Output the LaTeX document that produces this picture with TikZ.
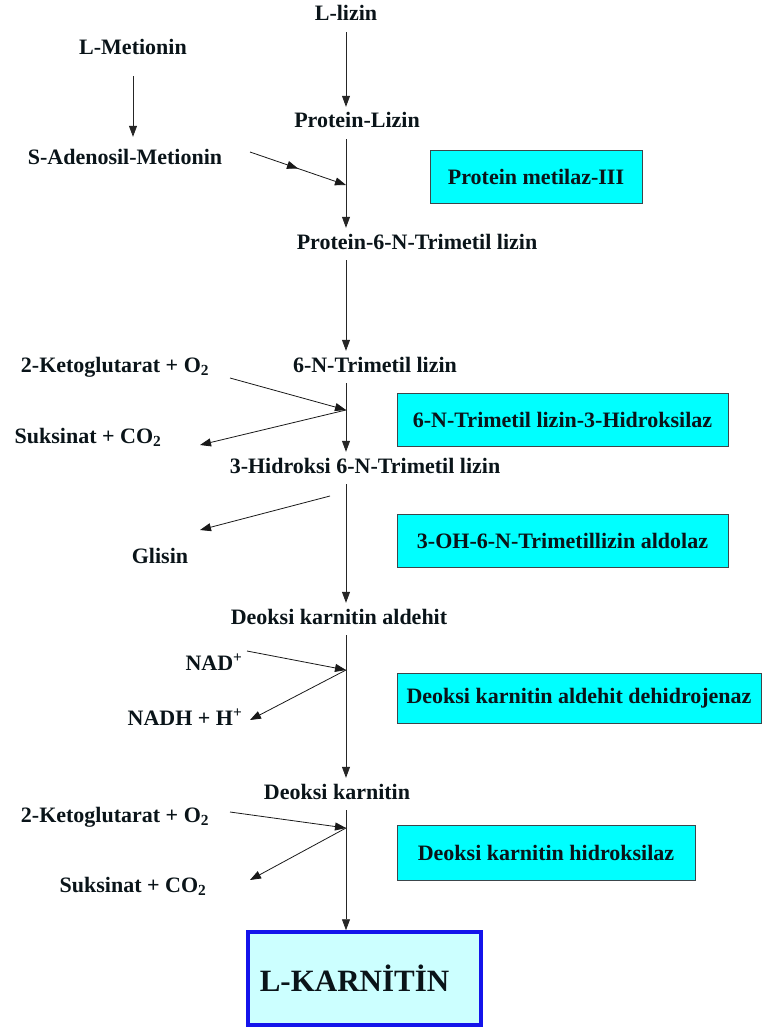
\documentclass[tikz,border=0pt]{standalone}
\usepackage{fontspec}
\setmainfont{Liberation Serif}
\usepackage{tikz}
\usetikzlibrary{
  arrows.meta,
  decorations.markings,
  positioning
}
\definecolor{enzcyan}{RGB}{0,255,255}
\definecolor{enzedge}{RGB}{60,70,75}
\definecolor{prodfill}{RGB}{204,255,255}
\definecolor{prodblue}{RGB}{20,20,235}
\definecolor{inkdark}{RGB}{10,20,25}
\tikzset{
  metab/.style={font=\fontsize{22}{26}\selectfont\bfseries,text=inkdark,
    inner xsep=3pt,inner ysep=6pt,text height=15pt,text depth=5pt},
  enzyme/.style={draw=enzedge,thick,fill=enzcyan,align=center,
    font=\fontsize{22}{26}\selectfont\bfseries,text=inkdark,
    minimum height=53pt},
  product/.style={draw=prodblue,line width=3.5pt,fill=prodfill,
    font=\fontsize{31}{34}\selectfont\bfseries,text=inkdark,
    minimum width=233pt,minimum height=93pt},
  flow/.style={-{Triangle[length=11pt,width=8pt]},thick,draw=black!85},
  sideflow/.style={-{Triangle[length=11pt,width=8pt]},thick,draw=black!90},
  midtip/.style={postaction={decorate},decoration={markings,
    mark=at position 0.5 with {\arrow{Triangle[length=11pt,width=8pt]}}}}
}

\begin{document}
\begin{tikzpicture}[x=1pt,y=-1pt]
  \useasboundingbox (0,0) rectangle (763,1030);
  % main line
  \node[metab] (llizin) at (346,16) {L-lizin};
  \node[metab] (plys) at (357,123) {Protein-Lizin};
  \node[metab] (p6n) at (417,244) {Protein-6-N-Trimetil lizin};
  \node[metab] (tml) at (375,367) {6-N-Trimetil lizin};
  \node[metab] (html) at (365,468) {3-Hidroksi 6-N-Trimetil lizin};
  \node[metab] (dka) at (339,619) {Deoksi karnitin aldehit};
  \node[metab] (dk) at (337,794) {Deoksi karnitin};
  \node[product] (lkar) at (364.5,978.5) {L-KARNİTİN\hspace*{20pt}};
  % side substrates and products
  \node[metab] (lmet) at (133,50) {L-Metionin};
  \node[metab] (sam) at (125,159) {S-Adenosil-Metionin};
  \node[metab] (kg1) at (115,367) {2-Ketoglutarat + O\textsubscript{2}};
  \node[metab] (suk1) at (88,438) {Suksinat + CO\textsubscript{2}};
  \node[metab] (gly) at (160,558) {Glisin};
  \node[metab] (nad) at (214,665) {NAD\textsuperscript{+}};
  \node[metab] (nadh) at (185,720) {NADH + H\textsuperscript{+}};
  \node[metab] (kg2) at (115,817) {2-Ketoglutarat + O\textsubscript{2}};
  \node[metab] (suk2) at (133,887) {Suksinat + CO\textsubscript{2}};
  % enzymes
  \node[enzyme,minimum width=212pt] (pm3) at (536,176.5) {Protein metilaz-III};
  \node[enzyme,minimum width=331pt] (hyd) at (562.5,420) {6-N-Trimetil lizin-3-Hidroksilaz};
  \node[enzyme,minimum width=331pt] (ald) at (562.5,541) {3-OH-6-N-Trimetillizin aldolaz};
  \node[enzyme,minimum width=364pt,minimum height=50pt] (dhg) at (579,698) {Deoksi karnitin aldehit dehidrojenaz};
  \node[enzyme,minimum width=298pt,minimum height=55pt] (dkh) at (546,852.5) {Deoksi karnitin hidroksilaz};
  % junctions on the main line
  \coordinate (axis) at (346,0);
  \coordinate (jsam) at (346,185);
  \coordinate (jkg1) at (346,410);
  \coordinate (jgly) at (330,496);
  \coordinate (jnad) at (346,670);
  \coordinate (jkg2) at (346,828);
  \coordinate (samout) at (250,152);
  \coordinate (kg1out) at (230,378);
  \coordinate (suk1in) at (200,445);
  \coordinate (glyin) at (200,530);
  \coordinate (nadout) at (247,651);
  \coordinate (nadhin) at (250,720);
  \coordinate (kg2out) at (230,812);
  \coordinate (suk2in) at (250,880);

  \draw[flow] (axis |- llizin.south) -- (axis |- plys.north);
  \draw[flow] (axis |- plys.south) -- (axis |- p6n.north);
  \draw[flow] (axis |- p6n.south) -- (axis |- tml.north);
  \draw[flow] (axis |- tml.south) -- (axis |- html.north);
  \draw[flow] (axis |- html.south) -- (axis |- dka.north);
  \draw[flow] (axis |- dka.south) -- (axis |- dk.north);
  \draw[flow] (axis |- dk.south) -- (axis |- lkar.north);

  \draw[flow,shorten <=10pt,shorten >=6pt] (lmet.south) -- (lmet.south |- sam.north);
  \draw[sideflow,midtip] (samout) -- (jsam);
  \draw[sideflow] (kg1out) -- (jkg1);
  \draw[sideflow] (jkg1) -- (suk1in);
  \draw[sideflow] (jgly) -- (glyin);
  \draw[sideflow] (nadout) -- (jnad);
  \draw[sideflow] (jnad) -- (nadhin);
  \draw[sideflow] (kg2out) -- (jkg2);
  \draw[sideflow] (jkg2) -- (suk2in);
\end{tikzpicture}
\end{document}
